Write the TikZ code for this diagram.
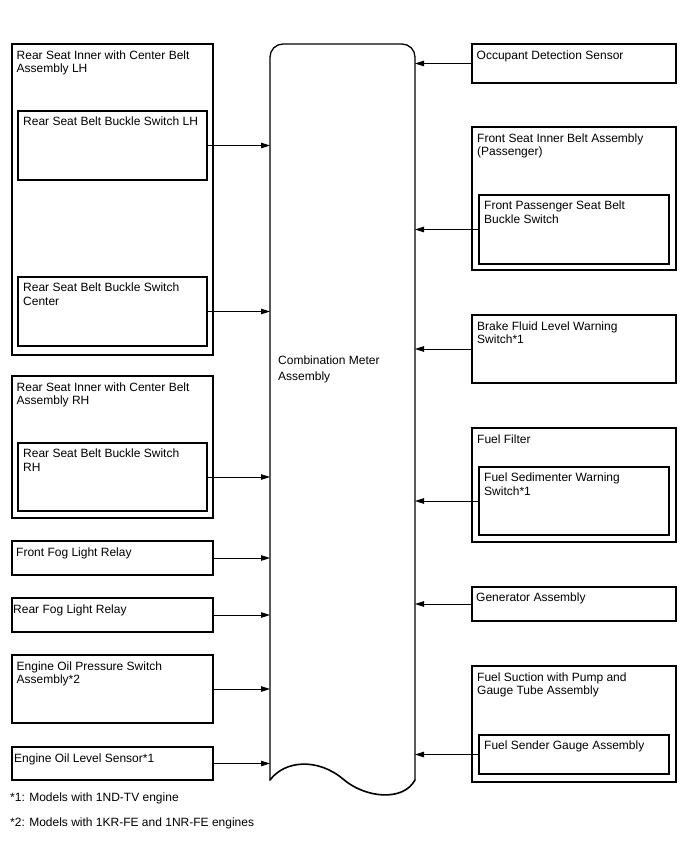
\documentclass[tikz,border=0pt]{standalone}
\usepackage{fontspec}
\setmainfont{Liberation Sans}
\usetikzlibrary{arrows.meta,calc}
\begin{document}
\begin{tikzpicture}[x=1pt,y=-1pt,
  box/.style={draw, line width=1.2pt, inner sep=0pt, outer sep=0pt, anchor=north west},
  lbl/.style={anchor=north west, inner sep=0pt, align=left, font=\fontsize{12}{13.5}\selectfont},
  arr/.style={line width=0.9pt, -{Triangle[length=9pt,width=5.5pt]}},
  meterline/.style={line width=1.3pt, line join=round, line cap=round}]
\useasboundingbox (0,0) rectangle (688,852);
\fill[white] (0,0) rectangle (688,852);
% box macro: name, x1, y1, x2, y2
\newcommand\mkbox[5]{\node[box, minimum width={#4pt-#2pt}, minimum height={#5pt-#3pt}] (#1) at (#2,#3) {};}
% meter
\node[inner sep=0pt, outer sep=0pt, minimum width=145pt, minimum height=736pt, anchor=north west] (meter) at (270,44) {};
\draw[meterline] (270,780) -- (270,57) .. controls (270,49.8) and (275.8,44) .. (283,44)
  -- (402,44) .. controls (409.2,44) and (415,49.8) .. (415,57) -- (415,780);
\draw[line width=1.6pt, line cap=round] (270,780) .. controls (285,760) and (318,758) .. (343,779) .. controls (365,798) and (403,802) .. (415,780);
\node[lbl, font=\fontsize{12}{16}\selectfont] (metertxt) at (278,354) {\rule{0pt}{10pt}Combination Meter\\Assembly};
% left side
\mkbox{lhO}{12}{44}{213}{355}
\mkbox{lhI}{18}{111}{207}{180}
\mkbox{ctI}{18}{277}{207}{346}
\mkbox{rhO}{12}{376}{213}{518}
\mkbox{rhI}{18}{443}{207}{511}
\mkbox{ffog}{12}{541}{213}{575}
\mkbox{rfog}{12}{598}{213}{632}
\mkbox{oilp}{12}{655}{213}{723}
\mkbox{oill}{12}{747}{213}{780}
\node[lbl] (tlhO) at (16.5,49) {\rule{0pt}{10pt}Rear Seat Inner with Center Belt\\Assembly LH};
\node[lbl] (tlhI) at (23,115.5) {\rule{0pt}{10pt}Rear Seat Belt Buckle Switch LH};
\node[lbl] (tctI) at (23,281.5) {\rule{0pt}{10pt}Rear Seat Belt Buckle Switch\\Center};
\node[lbl] (trhO) at (16.5,381) {\rule{0pt}{10pt}Rear Seat Inner with Center Belt\\Assembly RH};
\node[lbl] (trhI) at (23,447.5) {\rule{0pt}{10pt}Rear Seat Belt Buckle Switch\\RH};
\node[lbl] (tffog) at (16,546) {\rule{0pt}{10pt}Front Fog Light Relay};
\node[lbl] (trfog) at (13,603) {\rule{0pt}{10pt}Rear Fog Light Relay};
\node[lbl] (toilp) at (16.5,660) {\rule{0pt}{10pt}Engine Oil Pressure Switch\\Assembly*2};
\node[lbl] (toill) at (14,752) {\rule{0pt}{10pt}Engine Oil Level Sensor*1};
% right side
\mkbox{occ}{472}{44}{676}{83}
\mkbox{fsO}{472}{127}{676}{270}
\mkbox{fsI}{479}{195}{669}{264}
\mkbox{brk}{472}{315}{676}{383}
\mkbox{ffO}{472}{428}{676}{542}
\mkbox{ffI}{479}{467}{669}{535}
\mkbox{gen}{472}{587}{676}{621}
\mkbox{fsuO}{472}{666}{676}{782}
\mkbox{fsuI}{479}{735}{669}{774}
\node[lbl] (tocc) at (476.5,49) {\rule{0pt}{10pt}Occupant Detection Sensor};
\node[lbl] (tfsO) at (477,132) {\rule{0pt}{10pt}Front Seat Inner Belt Assembly\\(Passenger)};
\node[lbl] (tfsI) at (484,199.5) {\rule{0pt}{10pt}Front Passenger Seat Belt\\Buckle Switch};
\node[lbl] (tbrk) at (477,320) {\rule{0pt}{10pt}Brake Fluid Level Warning\\Switch*1};
\node[lbl] (tffO) at (477,433) {\rule{0pt}{10pt}Fuel Filter};
\node[lbl] (tffI) at (484,471.5) {\rule{0pt}{10pt}Fuel Sedimenter Warning\\Switch*1};
\node[lbl] (tgen) at (476,591) {\rule{0pt}{10pt}Generator Assembly};
\node[lbl] (tfsuO) at (477,671) {\rule{0pt}{10pt}Fuel Suction with Pump and\\Gauge Tube Assembly};
\node[lbl] (tfsuI) at (484,739.5) {\rule{0pt}{10pt}Fuel Sender Gauge Assembly};
% arrows
\foreach \b in {lhI,ctI,rhI,ffog,rfog,oilp,oill}
  \draw[arr] (\b.east) -- (\b.east -| meter.west);
\foreach \b in {occ,fsI,brk,ffI,gen,fsuI}
  \draw[arr] (\b.west) -- (\b.west -| meter.east);
% footnotes
\node[lbl] (fn1) at (10,791) {\rule{0pt}{10pt}*1: Models with 1ND-TV engine};
\node[lbl] (fn2) at (10,816) {\rule{0pt}{10pt}*2: Models with 1KR-FE and 1NR-FE engines};
\end{tikzpicture}
\end{document}
